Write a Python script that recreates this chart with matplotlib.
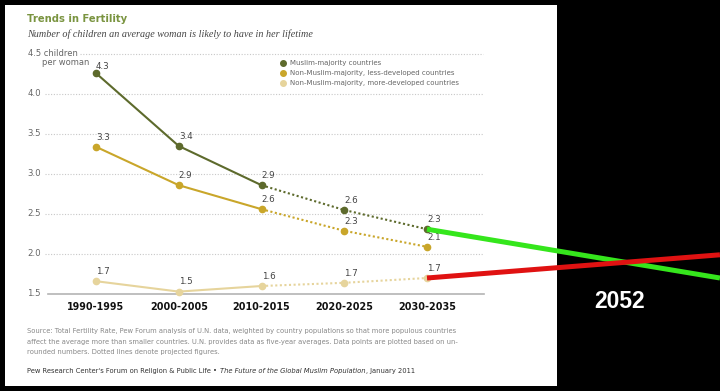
import matplotlib
matplotlib.use("Agg")
import matplotlib.pyplot as plt
from matplotlib.patches import Rectangle

# data
periods = ['1990-1995', '2000-2005', '2010-2015', '2020-2025', '2030-2035']
muslim = [4.26, 3.35, 2.86, 2.55, 2.31]
less_dev = [3.34, 2.86, 2.56, 2.29, 2.09]
more_dev = [1.66, 1.53, 1.60, 1.64, 1.70]
muslim_lbl = ['4.3', '3.4', '2.9', '2.6', '2.3']
less_lbl = ['3.3', '2.9', '2.6', '2.3', '2.1']
more_lbl = ['1.7', '1.5', '1.6', '1.7', '1.7']
yticks = [1.5, 2.0, 2.5, 3.0, 3.5, 4.0]
# added trend lines towards 2052
green_x = [4, 7.54]
green_y = [2.31, 1.70]
red_x = [4, 7.54]
red_y = [1.70, 1.99]

C_MUS = '#5d6a2c'
C_LESS = '#c9a62a'
C_MORE = '#e6d49c'
GRAY = '#666666'

W, H = 720, 391
fig = plt.figure(figsize=(7.2, 3.91), dpi=100, facecolor='black')

ax = fig.add_axes([0, 0, 1, 1])
ax.patch.set_alpha(0)
ax.axis('off')
ax.set_xlim(-96 / 82.75, (W - 96) / 82.75)
ax.set_ylim(1.5 - 97 / 80, 1.5 + 294 / 80)
ax.add_patch(Rectangle((5 / W, 5 / H), 552 / W, 381 / H, transform=ax.transAxes,
                       facecolor='white', edgecolor='none', zorder=0))

yt = ax.get_yaxis_transform()

# gridlines
for v in yticks[1:]:
    ax.plot([45 / W, 483 / W], [v, v], transform=yt, color='#c8c8c8', lw=0.8,
            ls=(0, (1, 1.5)), zorder=1)
ax.plot([80 / W, 483 / W], [4.5, 4.5], transform=yt, color='#c8c8c8', lw=0.8,
        ls=(0, (1, 1.5)), zorder=1)
ax.plot([48 / W, 484 / W], [1.5, 1.5], transform=yt, color='#b4b4b4', lw=1.2, zorder=1)

for v in yticks:
    ax.text(41 / W, v, '%.1f' % v, transform=yt, ha='right', va='center',
            fontsize=6.2, color=GRAY)
ax.text(28 / W, 4.5, '4.5 children', transform=yt, ha='left', va='center',
        fontsize=6.0, color=GRAY)
ax.text(89 / W, 4.5 - 9 / 80, 'per woman', transform=yt, ha='right', va='center',
        fontsize=6.0, color=GRAY)

x = list(range(len(periods)))
for vals, lbls, col in [(more_dev, more_lbl, C_MORE), (less_dev, less_lbl, C_LESS),
                        (muslim, muslim_lbl, C_MUS)]:
    ax.plot(x[:3], vals[:3], color=col, lw=1.5, zorder=3)
    ax.plot(x[2:], vals[2:], color=col, lw=1.5, ls=(0, (1, 1.2)), zorder=3)
    ax.plot(x, vals, 'o', color=col, ms=4.5, zorder=4)
    for xi, v, t in zip(x, vals, lbls):
        dy = 4.5 if t == '4.3' and xi == 0 else 7
        ax.annotate(t, (xi, v), xytext=(5, dy), textcoords='offset points',
                    ha='center', va='center', fontsize=6.3, color='#444444')

ax.plot(green_x, green_y, color='#35e61c', lw=3.6, solid_capstyle='butt', zorder=5)
ax.plot(red_x, red_y, color='#e01212', lw=3.6, solid_capstyle='butt', zorder=5)

xt = ax.get_xaxis_transform()
for xi, p in zip(x, periods):
    ax.text(xi, 1 - 307 / H, p, transform=xt, ha='center', va='center',
            fontsize=6.9, fontweight='bold', color='#111111')

# legend
leg = [('Muslim-majority countries', C_MUS),
       ('Non-Muslim-majority, less-developed countries', C_LESS),
       ('Non-Muslim-majority, more-developed countries', C_MORE)]
for i, (name, col) in enumerate(leg):
    yy = 1 - (63 + 10 * i) / H
    ax.plot([283 / W], [yy], 'o', color=col, ms=4, transform=ax.transAxes, zorder=4)
    fig.text(290 / W, yy, name, ha='left', va='center', fontsize=5.0, color=GRAY)

fig.text(27 / W, 1 - 19 / H, 'Trends in Fertility', fontsize=7.2, fontweight='bold',
         color='#7a9440', va='center')
fig.text(27 / W, 1 - 34 / H,
         'Number of children an average woman is likely to have in her lifetime',
         fontsize=7.25, style='italic', family='Liberation Serif', color='#444444',
         va='center')

src = ['Source: Total Fertility Rate, Pew Forum analysis of U.N. data, weighted by country populations so that more populous countries',
       'affect the average more than smaller countries. U.N. provides data as five-year averages. Data points are plotted based on un-',
       'rounded numbers. Dotted lines denote projected figures.']
for i, s in enumerate(src):
    fig.text(27 / W, 1 - (331 + 10.7 * i) / H, s, fontsize=4.88, color='#888888', va='center')

# footer in three pieces (normal / italic / normal)
renderer = fig.canvas.get_renderer()
fx = 27
for piece, st in [("Pew Research Center's Forum on Religion & Public Life \u2022 ", 'normal'),
                  ('The Future of the Global Muslim Population', 'italic'),
                  (', January 2011', 'normal')]:
    t = fig.text(fx / W, 1 - 371 / H, piece, fontsize=4.9, color='#333333', va='center',
                 style=st)
    fx = t.get_window_extent(renderer).x1 + (1 if piece.endswith(' ') else 0)

fig.text(620 / W, 1 - 302 / H, '2052', fontsize=16.5, fontweight='bold',
         family='Liberation Sans', color='white', ha='center', va='center')

fig.savefig('out.png', dpi=100, facecolor='black')
